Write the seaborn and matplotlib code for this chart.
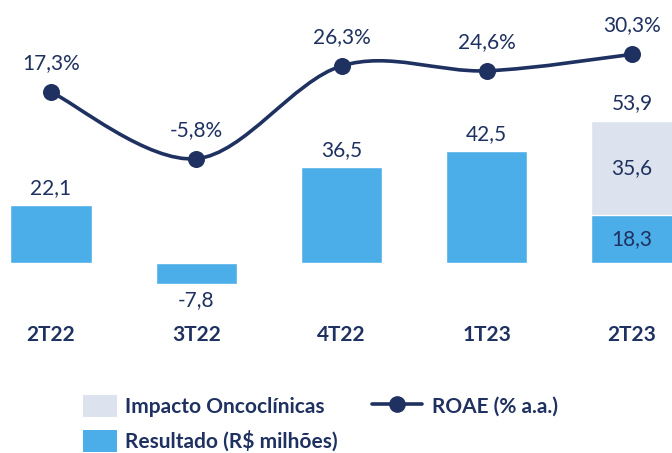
import numpy as np
import matplotlib
matplotlib.use("Agg")
import matplotlib.pyplot as plt
from matplotlib.path import Path
from matplotlib.patches import PathPatch, Patch
from matplotlib.lines import Line2D
import seaborn as sns

# --- data ---
quarters = ['2T22', '3T22', '4T22', '1T23', '2T23']
resultado = [22.1, -7.8, 36.5, 42.5, 18.3]
impacto = [0.0, 0.0, 0.0, 0.0, 35.6]
roae = [17.3, -5.8, 26.3, 24.6, 30.3]

resultado_lbl = ['22,1', '-7,8', '36,5', '42,5', '18,3']
impacto_lbl = '35,6'
total_lbl = '53,9'
roae_lbl = ['17,3%', '-5,8%', '26,3%', '24,6%', '30,3%']

NAVY = '#1F3160'
BLUE = '#4BAEE8'
GRAY = '#DCE3EE'
FS = 15

sns.set_style("white")
plt.rcParams['font.family'] = ['Lato', 'DejaVu Sans']

fig = plt.figure(figsize=(6.72, 4.53), dpi=100)
ax = fig.add_axes([0, 0, 1, 1])

totals = [r + i for r, i in zip(resultado, impacto)]
sns.barplot(x=quarters, y=totals, color=GRAY, width=0.56, ax=ax, saturation=1)
sns.barplot(x=quarters, y=resultado, color=BLUE, width=0.56, ax=ax, saturation=1)
ax.set_xlim(-0.351, 4.275)
ax.set_ylim(-72.2, 100.0)
ax.axis('off')

# bar labels
for i, v in enumerate(resultado):
    if i == 4:
        ax.text(i, v / 2, resultado_lbl[i], ha='center', va='center', fontsize=FS, color=NAVY)
    elif v >= 0:
        ax.text(i, v + 2.6, resultado_lbl[i], ha='center', va='bottom', fontsize=FS, color=NAVY)
    else:
        ax.text(i, v - 2.6, resultado_lbl[i], ha='center', va='top', fontsize=FS, color=NAVY)
ax.text(4, resultado[4] + impacto[4] / 2, impacto_lbl, ha='center', va='center', fontsize=FS, color=NAVY)
ax.text(4, totals[4] + 3.0, total_lbl, ha='center', va='bottom', fontsize=FS, color=NAVY)

# category labels
for i, q in enumerate(quarters):
    ax.text(i, -27.5, q, ha='center', va='center', fontsize=FS, fontweight='bold', color=NAVY)

# ROAE line on twin axis, smoothed with bezier segments
ax2 = ax.twinx()
ax2.set_position([0, 0, 1, 1])
ax2.set_xlim(-0.351, 4.275)
ax2.set_ylim(-107.6, 49.1)
ax2.axis('off')

xs = np.arange(len(roae), dtype=float)
pts = np.column_stack([xs, roae])
verts = [pts[0]]
codes = [Path.MOVETO]
for k in range(len(pts) - 1):
    p0 = pts[k - 1] if k > 0 else pts[k]
    p1, p2 = pts[k], pts[k + 1]
    p3 = pts[k + 2] if k + 2 < len(pts) else pts[k + 1]
    c1 = p1 + (p2 - p0) / 6
    c2 = p2 - (p3 - p1) / 6
    verts += [c1, c2, p2]
    codes += [Path.CURVE4] * 3
ax2.add_patch(PathPatch(Path(verts, codes), facecolor='none', edgecolor=NAVY, lw=2.6, zorder=3))
sns.scatterplot(x=xs, y=roae, color=NAVY, s=150, edgecolor=NAVY, linewidth=0, ax=ax2, zorder=4)
for i, v in enumerate(roae):
    ax2.text(i, v + 6.5, roae_lbl[i], ha='center', va='bottom', fontsize=FS, color=NAVY)

# legends (bars and line have different handle lengths)
bar_handles = [
    Patch(facecolor=GRAY, edgecolor='none', label='Impacto Oncoclínicas'),
    Patch(facecolor=BLUE, edgecolor='none', label='Resultado (R$ milhões)'),
]
leg1 = fig.legend(handles=bar_handles, loc='upper left', bbox_to_anchor=(0.123, 0.128),
                  frameon=False, handlelength=1.65, handleheight=1.25,
                  handletextpad=0.4, labelspacing=0.6, borderpad=0.0, borderaxespad=0.0,
                  prop={'weight': 'bold', 'size': FS})
line_handle = [Line2D([], [], color=NAVY, lw=2.6, marker='o', markersize=11, label='ROAE (% a.a.)')]
leg2 = fig.legend(handles=line_handle, loc='upper left', bbox_to_anchor=(0.553, 0.128),
                  frameon=False, handlelength=2.4, handleheight=1.25,
                  handletextpad=0.5, borderpad=0.0, borderaxespad=0.0,
                  prop={'weight': 'bold', 'size': FS})
for leg in (leg1, leg2):
    for t in leg.get_texts():
        t.set_color(NAVY)

fig.savefig('out.png', dpi=100)
